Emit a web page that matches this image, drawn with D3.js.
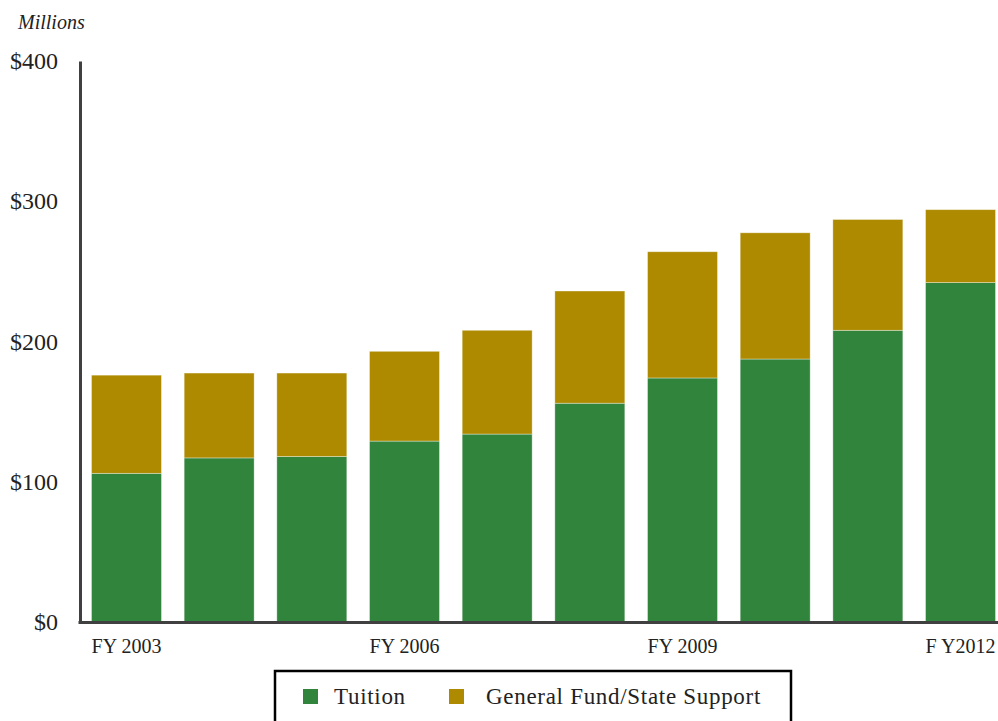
<!DOCTYPE html>
<html><head><meta charset="utf-8">
<script src="https://cdn.jsdelivr.net/npm/d3@7"></script>
<style>body{margin:0;background:#fff}svg{display:block}</style>
</head><body>
<script>
const years = ["FY 2003","FY 2004","FY 2005","FY 2006","FY 2007","FY 2008","FY 2009","FY 2010","FY 2011","F Y2012"];
const tuition = [106, 117, 118, 129, 134, 156, 174, 187.5, 208, 242];
const stateSupport = [70, 60.5, 59.5, 64, 74, 80, 90, 90, 79, 52];
const seriesNames = ["Tuition","General Fund/State Support"];
const colors = ["#31843B","#AD8A00"];
const yTicks = [0,100,200,300,400];
const xTickShown = ["FY 2003","FY 2006","FY 2009","F Y2012"];

const W=998,H=721;
const svg=d3.select("body").append("svg").attr("width",W).attr("height",H);
const font="'Liberation Serif','Times New Roman',serif";

const x=d3.scaleBand().domain(years).range([80,1007]).paddingInner(0.245).paddingOuter(0.124);
const y=d3.scaleLinear().domain([0,400]).range([622,61]);

const data=years.map((yr,i)=>({year:yr,Tuition:tuition[i],"General Fund/State Support":stateSupport[i]}));
const stack=d3.stack().keys(seriesNames)(data);

svg.append("g").selectAll("g").data(stack).join("g").attr("fill",(d,i)=>colors[i])
 .selectAll("rect").data(d=>d).join("rect")
 .attr("x",d=>x(d.data.year)).attr("width",x.bandwidth())
 .attr("y",d=>y(d[1])).attr("height",d=>y(d[0])-y(d[1]))
 .attr("stroke","rgba(255,255,255,0.45)").attr("stroke-width",0.8);

// y axis
const ya=svg.append("g").attr("transform","translate(80,0)")
 .call(d3.axisLeft(y).tickValues(yTicks).tickFormat(d=>"$"+d).tickSize(0).tickPadding(22));
ya.select(".domain").attr("stroke","#404040").attr("stroke-width",3);
ya.selectAll("text").attr("font-family",font).attr("font-size",24).attr("fill","#222");

// x axis
const xa=svg.append("g").attr("transform","translate(0,622)")
 .call(d3.axisBottom(x).tickValues(xTickShown).tickSize(0).tickPadding(17));
xa.select(".domain").attr("stroke","#404040").attr("stroke-width",3).attr("d","M78.5,0.5H998");
xa.selectAll("text").attr("font-family",font).attr("font-size",20).attr("fill","#222");

svg.append("text").attr("x",18).attr("y",29).attr("font-family",font).attr("font-style","italic")
 .attr("font-size",20).attr("fill","#222").text("Millions");

// legend
const lg=svg.append("g");
lg.append("rect").attr("x",275).attr("y",671).attr("width",516).attr("height",60)
 .attr("fill","#fff").attr("stroke","#000").attr("stroke-width",2.5);
const lx=[303,449], tx=[334,486];
seriesNames.forEach((n,i)=>{
 lg.append("rect").attr("x",lx[i]).attr("y",689).attr("width",15).attr("height",15).attr("fill",colors[i]);
 lg.append("text").attr("x",tx[i]).attr("y",704).attr("font-family",font).attr("font-size",23)
  .attr("letter-spacing",0.7).attr("fill","#222").text(n);
});
</script>
</body></html>
